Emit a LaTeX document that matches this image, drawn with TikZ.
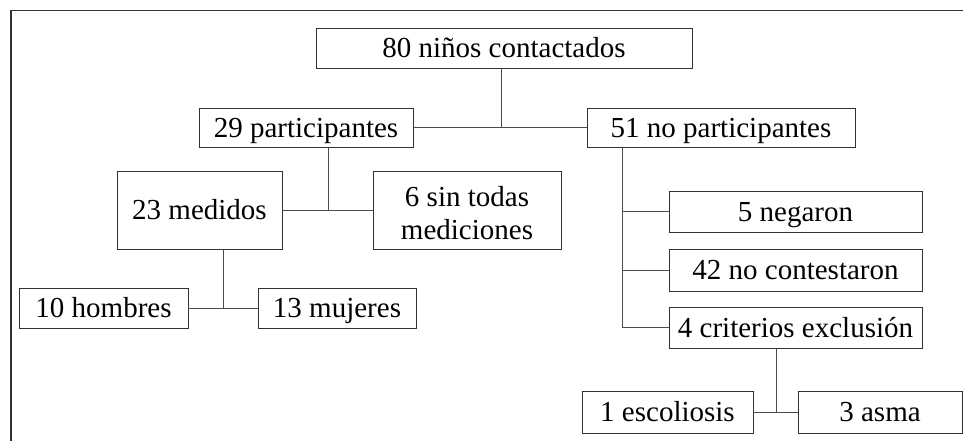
\documentclass[tikz,border=0pt]{standalone}
\usepackage{fontspec}
\setmainfont{Liberation Serif}
\begin{document}
\begin{tikzpicture}[x=1pt,y=-1pt]
  \tikzstyle{every node}=[font=\fontsize{29}{33}\selectfont]
  \tikzstyle{caja}=[draw=black!80,line width=0.9pt,inner sep=0pt,align=center]
  \tikzstyle{una}=[caja,text height=22pt,text depth=2.8pt]
  \tikzstyle{linea}=[draw=black!70,line width=1pt]
 \useasboundingbox (0,0) rectangle (963,441);
 % marco
 \draw[line width=1.5pt,black!80] (11,441) -- (11,10.5) -- (963,10.5);

 \node[una,minimum width=376pt,minimum height=40pt] (contactados) at (504,48) {80 niños contactados};
 \node[una,minimum width=214pt,minimum height=39pt] (part) at (306,127.5) {29 participantes};
 \node[una,minimum width=268pt,minimum height=39pt] (nopart) at (721,127.5) {51 no participantes};
 \node[una,minimum width=165pt,minimum height=78pt] (medidos) at (199.5,210) {23 medidos};
 \node[caja,text height=60.8pt,text depth=2.8pt,minimum width=188pt,minimum height=78pt] (sintodas) at (467,210) {6 sin todas\\mediciones};
 \node[una,minimum width=169pt,minimum height=40pt] (hombres) at (103.5,308) {10 hombres};
 \node[una,minimum width=158pt,minimum height=40pt] (mujeres) at (337,308) {13 mujeres};
 \node[una,minimum width=253pt,minimum height=41pt] (negaron) at (795.5,211.5) {5 negaron};
 \node[una,minimum width=253pt,minimum height=42pt] (nocont) at (795.5,270) {42 no contestaron};
 \node[una,minimum width=253pt,minimum height=41pt] (criterios) at (795.5,327.5) {4 criterios exclusión};
 \node[una,minimum width=171pt,minimum height=42pt] (escol) at (667.5,412) {1 escoliosis};
 \node[una,minimum width=164pt,minimum height=42pt] (asma) at (880,412) {3 asma};

 \coordinate (j1) at (501,127.5);
 \coordinate (j2) at (328,210);
 \coordinate (j3) at (223,308);
 \coordinate (j4) at (622,327.5);
 \coordinate (j5) at (776,412);

 \draw[linea] (contactados.south -| j1) -- (j1);
 \draw[linea] (part) -- (nopart);
 \draw[linea] (part.south -| j2) -- (j2);
 \draw[linea] (medidos) -- (sintodas);
 \draw[linea] (medidos.south -| j3) -- (j3);
 \draw[linea] (hombres) -- (mujeres);
 \draw[linea] (nopart.south -| j4) -- (j4) -- (criterios.west);
 \draw[linea] (j4 |- negaron.west) -- (negaron.west);
 \draw[linea] (j4 |- nocont.west) -- (nocont.west);
 \draw[linea] (criterios.south -| j5) -- (j5);
 \draw[linea] (escol) -- (asma);

\end{tikzpicture}
\end{document}
